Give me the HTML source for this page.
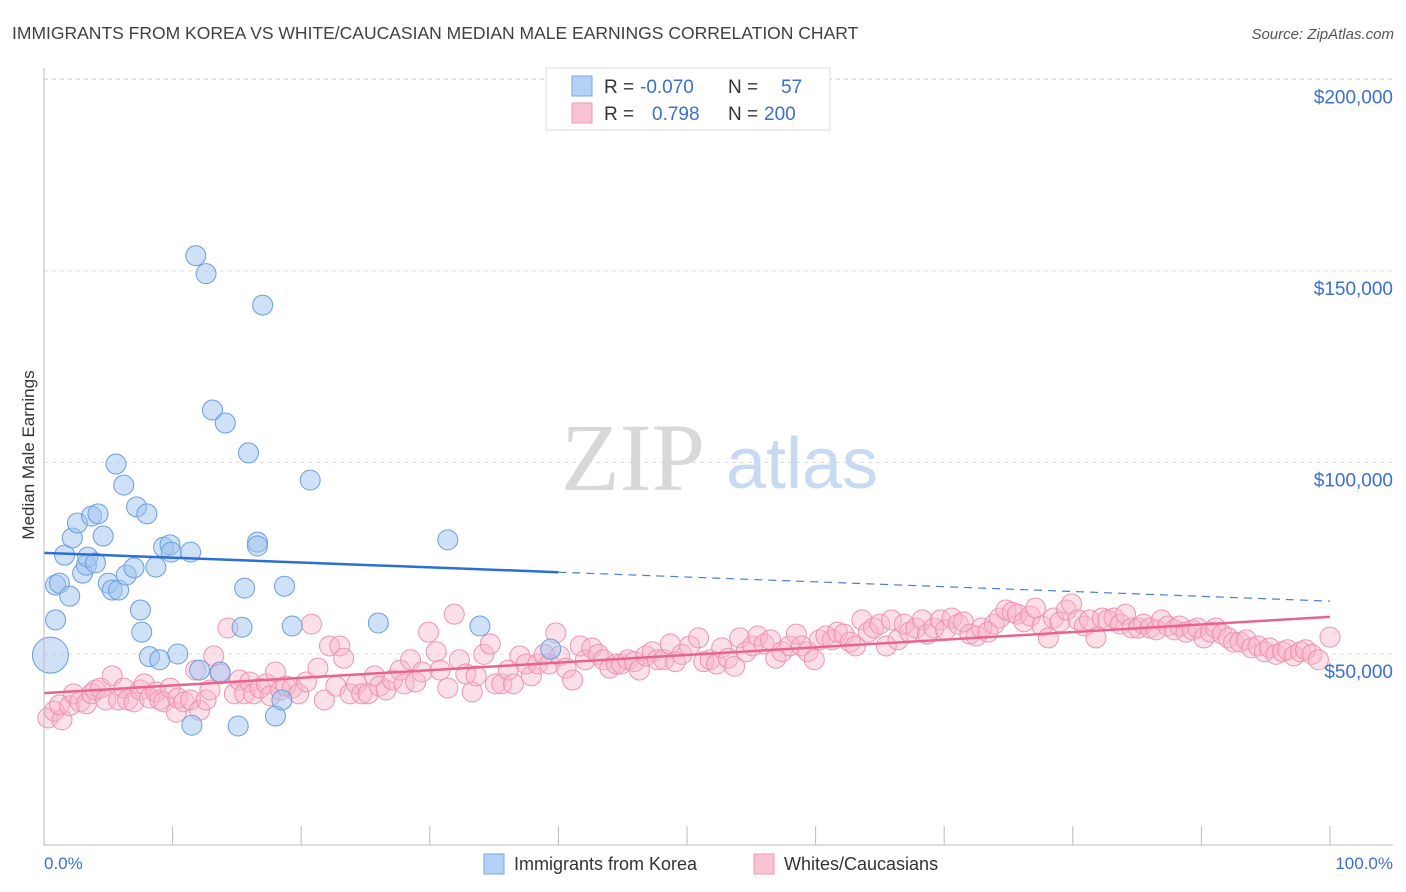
<!DOCTYPE html>
<html><head><meta charset="utf-8"><style>
body{margin:0;background:#fff;font-family:"Liberation Sans",sans-serif;}
svg{display:block}
</style></head><body>
<svg id="chart" width="1406" height="892">
<text x="12" y="39" font-size="17.5" fill="#404040">IMMIGRANTS FROM KOREA VS WHITE/CAUCASIAN MEDIAN MALE EARNINGS CORRELATION CHART</text>
<text x="1394" y="39" font-size="15" fill="#555" font-style="italic" text-anchor="end">Source: ZipAtlas.com</text>
<g id="grid"></g>
<text x="633" y="490" font-size="96" fill="#d8d8d8" font-family="Liberation Serif,serif" text-anchor="middle">ZIP</text>
<text x="802" y="488" font-size="72" fill="#c8daf2" text-anchor="middle">atlas</text>
<g id="pink"></g>
<g id="blue"></g>
<g id="trends"></g>
<line x1="44" y1="68" x2="44" y2="845" stroke="#bbb"/>
<line x1="44" y1="845" x2="1393" y2="845" stroke="#bbb"/>
<g id="axes"></g>
<text x="34" y="455" font-size="17" fill="#333" text-anchor="middle" transform="rotate(-90 34 455)">Median Male Earnings</text>
<text x="44" y="869" font-size="17" fill="#3a6fd0">0.0%</text>
<text x="1393" y="869" font-size="17" fill="#3a6fd0" text-anchor="end">100.0%</text>
<g>
<rect x="546" y="68" width="284" height="62" fill="#fff" stroke="#ddd"/>
<rect x="572" y="76" width="20" height="20" fill="#b5d0f5" stroke="#7aa5e4"/>
<rect x="572" y="103" width="20" height="20" fill="#f9c3d3" stroke="#ee9ab4"/>
<text x="604" y="93" font-size="19" fill="#333">R = <tspan fill="#3a6fd0" x="640">-0.070</tspan><tspan x="728">N =</tspan><tspan fill="#3a6fd0" x="781">57</tspan></text>
<text x="604" y="120" font-size="19" fill="#333">R = <tspan fill="#3a6fd0" x="652">0.798</tspan><tspan x="728">N = </tspan><tspan fill="#3a6fd0" x="764">200</tspan></text>
</g>
<g>
<rect x="484" y="854" width="20" height="20" fill="#b5d0f5" stroke="#7aa5e4"/>
<text x="514" y="870" font-size="18" fill="#333">Immigrants from Korea</text>
<rect x="754" y="854" width="20" height="20" fill="#f9c3d3" stroke="#ee9ab4"/>
<text x="784" y="870" font-size="18" fill="#333">Whites/Caucasians</text>
</g>
</svg>
<script>
const yTicks=[50000,100000,150000,200000];
const yTickLabels=["$50,000","$100,000","$150,000","$200,000"];
const xTicks=[0,10,20,30,40,50,60,70,80,90,100];
const blueX=[0.9,0.5,0.9,1.2,1.6,2.0,2.2,2.6,3.0,3.3,3.4,3.7,4.0,4.2,4.6,5.0,5.3,5.6,5.8,6.2,6.4,7.0,7.2,7.5,7.6,8.0,8.2,8.7,9.0,9.3,9.8,9.9,10.4,11.5,11.4,11.8,12.1,12.6,13.1,13.7,14.1,15.1,15.4,15.6,15.9,16.6,16.6,17.0,18.0,18.5,18.7,19.3,20.7,26.0,31.4,33.9,39.4];
const blueY=[58.9,49.7,68.0,68.5,75.8,65.1,80.3,84.2,71.1,73.2,75.3,86.0,73.8,86.6,80.8,68.5,66.7,99.6,66.7,94.1,70.6,72.5,88.4,61.5,55.7,86.6,49.3,72.7,48.5,77.9,78.5,76.6,50.0,31.4,76.6,154.0,45.8,149.3,113.7,45.3,110.3,31.2,57.0,67.2,102.5,79.2,78.2,141.1,33.8,38.0,67.7,57.3,95.4,58.1,79.8,57.3,51.3];
const pinkX=[0.3,0.8,1.4,1.2,2.0,2.3,2.8,3.3,3.7,4.0,4.4,4.8,5.3,5.8,6.2,6.5,7.0,7.5,7.8,8.2,8.7,9.0,9.3,9.8,10.3,10.4,10.9,11.4,11.8,12.1,12.6,12.9,13.2,13.7,14.3,14.8,15.2,15.6,16.0,16.3,16.8,17.3,17.6,18.0,18.4,18.8,19.3,19.8,20.4,20.8,21.3,21.8,22.2,22.7,23.0,23.3,23.8,24.3,24.7,25.2,25.7,26.1,26.6,27.1,27.7,28.0,28.5,28.9,29.4,29.9,30.5,30.8,31.4,31.9,32.3,32.8,33.3,33.6,34.2,34.7,35.1,35.6,36.1,36.5,37.0,37.5,37.9,38.4,38.9,39.3,39.8,40.1,40.6,41.1,41.7,42.1,42.6,43.1,43.5,44.0,44.5,44.9,45.4,45.9,46.3,46.8,47.3,47.7,48.2,48.7,49.1,49.6,50.2,50.9,51.3,51.8,52.3,52.7,53.2,53.7,54.1,54.6,55.1,55.5,56.0,56.5,56.9,57.4,58.0,58.5,58.9,59.4,59.9,60.3,60.8,61.3,61.7,62.2,62.7,63.1,63.6,64.1,64.5,65.0,65.5,65.9,66.4,66.9,67.3,67.8,68.3,68.7,69.2,69.7,70.1,70.6,71.1,71.5,72.0,72.5,72.9,73.4,73.9,74.3,74.8,75.3,75.7,76.2,76.7,77.1,77.6,78.1,78.5,79.0,79.5,79.9,80.4,80.9,81.3,81.8,82.3,82.7,83.2,83.7,84.1,84.6,85.1,85.5,86.0,86.5,86.9,87.4,87.9,88.3,88.8,89.3,89.7,90.2,90.7,91.1,91.6,92.1,92.5,93.0,93.5,93.9,94.4,94.9,95.3,95.8,96.3,96.7,97.2,97.7,98.1,98.6,99.1,100];
const pinkY=[33.3,35.1,32.8,36.7,36.5,39.6,37.5,37.0,39.6,40.6,41.1,38.0,44.3,38.0,41.1,38.0,37.5,40.6,42.2,38.5,40.1,38.0,37.5,41.1,34.8,38.5,37.5,38.0,45.8,35.3,38.0,40.6,49.5,44.8,56.8,39.6,43.2,39.6,42.7,39.6,41.1,42.2,39.1,45.3,40.6,41.6,41.1,39.6,42.7,57.8,46.3,38.0,52.1,41.6,52.1,48.9,39.6,42.2,39.6,39.6,44.3,41.6,40.6,43.2,45.8,42.2,48.5,42.7,45.3,55.7,50.6,45.8,41.1,60.4,48.5,44.8,40.1,44.3,49.9,52.6,42.2,42.2,45.8,42.2,49.5,47.4,44.3,47.4,49.9,47.4,55.5,49.5,46.3,43.2,52.1,48.5,51.6,49.9,48.5,46.3,47.4,47.4,48.5,48.0,45.8,49.5,50.6,48.5,48.5,52.6,48.0,49.9,52.1,54.2,48.0,48.5,47.4,51.6,48.9,46.8,54.2,50.6,52.1,54.7,52.6,53.7,48.9,50.6,52.1,55.2,52.1,50.6,48.5,53.7,54.7,53.7,55.7,55.2,53.1,52.1,58.9,55.7,56.8,57.8,52.1,58.9,53.7,57.8,55.7,56.8,58.9,55.2,56.8,58.9,56.3,59.4,57.8,58.4,55.2,54.7,56.8,55.7,57.8,59.4,61.5,60.9,60.4,58.4,59.9,62.0,57.3,54.2,59.4,58.4,61.5,63.1,58.9,57.3,58.9,54.2,59.4,58.9,59.4,57.8,60.4,56.8,56.8,57.8,56.8,56.3,58.9,57.3,56.3,57.3,55.7,56.3,56.8,54.2,55.7,56.8,55.2,54.2,53.1,53.1,53.7,51.6,52.1,50.6,51.6,49.9,50.6,51.1,49.5,50.6,51.1,49.9,48.5,54.4];
const blueTrend=[76.4,63.8];
const pinkTrend=[39.8,59.7];
const sx=p=>44+p*12.86;
const sy=v=>845.5-v/50000*191.5;
const NS="http://www.w3.org/2000/svg";
function mk(tag,attrs,parent){const e=document.createElementNS(NS,tag);for(const k in attrs)e.setAttribute(k,attrs[k]);parent.appendChild(e);return e;}
const grid=document.getElementById('grid'),axes=document.getElementById('axes');
const topG=mk('line',{x1:44,x2:1393,y1:79,y2:79,stroke:'#ddd','stroke-dasharray':'4,4'},grid);


yTicks.forEach((t,i)=>{
 const l=mk('line',{x1:44,x2:1393,y1:sy(t),y2:sy(t),stroke:'#ddd','stroke-dasharray':'4,4'},grid);
 
 
 const tx=mk('text',{x:1393,y:sy(t)+24,'font-size':19,fill:'#3a6fd0','text-anchor':'end'},axes);
 tx.textContent=yTickLabels[i];
 
 
});
xTicks.forEach(t=>{
 const l=mk('line',{x1:sx(t),x2:sx(t),y1:826,y2:845,stroke:'#bbb'},axes);
 
 
});
const pink=document.getElementById('pink');
pinkX.forEach((x,i)=>{
 const c=mk('circle',{cx:sx(x),cy:sy(pinkY[i]*1000),r:10,fill:'rgba(248,180,200,0.42)',stroke:'#ee93b0','stroke-width':1},pink);
 
 
});
const blue=document.getElementById('blue');
blueX.forEach((x,i)=>{
 const r=(i===1)?18:10;
 const c=mk('circle',{cx:sx(x),cy:sy(blueY[i]*1000),r:r,fill:'rgba(160,196,240,0.5)',stroke:'#6a9de0','stroke-width':1},blue);
 
 
});
const tr=document.getElementById('trends');
const bAt=p=>blueTrend[0]+(blueTrend[1]-blueTrend[0])*p/100;
const b1=mk('line',{x1:sx(0),y1:sy(bAt(0)*1000),x2:sx(40),y2:sy(bAt(40)*1000),stroke:'#2a6fd6','stroke-width':2.5},tr);


const b2=mk('line',{x1:sx(40),y1:sy(bAt(40)*1000),x2:sx(100),y2:sy(bAt(100)*1000),stroke:'#4a7fd0','stroke-width':1.2,'stroke-dasharray':'8,6'},tr);


const p1=mk('line',{x1:sx(0),y1:sy(pinkTrend[0]*1000),x2:sx(100),y2:sy(pinkTrend[1]*1000),stroke:'#e8648e','stroke-width':2.5},tr);


</script>
</body></html>
